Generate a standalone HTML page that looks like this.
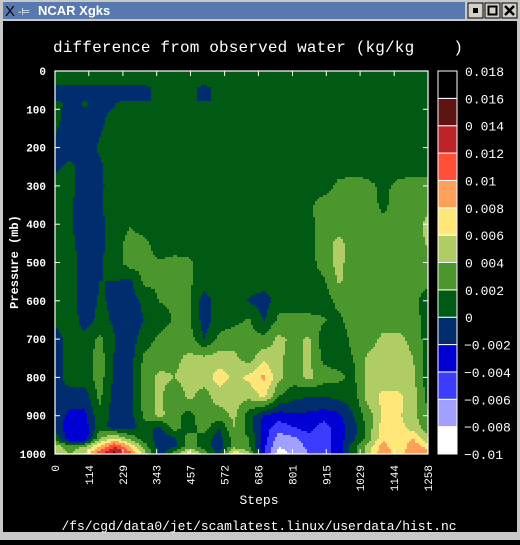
<!DOCTYPE html>
<html><head><meta charset="utf-8">
<style>
html,body{margin:0;padding:0;background:#000;}
body{width:520px;height:540px;overflow:hidden;position:relative;font-family:"Liberation Mono",monospace;}
svg text{font-family:"Liberation Mono",monospace;fill:#fff;}
</style></head>
<body>
<svg id="root" width="520" height="540" viewBox="0 0 520 540" xmlns="http://www.w3.org/2000/svg">
  <rect x="0" y="0" width="520" height="540" fill="#000"/>
  <g>
    <rect x="0" y="0" width="520" height="21" fill="#c8c8c8"/>
    <rect x="3" y="2" width="462" height="17" fill="#5878b0"/>
    <text x="5" y="16" style="font-family:'Liberation Sans',sans-serif;font-size:15px;fill:#000">X</text>
    <text x="18" y="15" style="font-family:'Liberation Sans',sans-serif;font-size:10px;fill:#fff">-⊨</text>
    <text x="38" y="15" style="font-family:'Liberation Sans',sans-serif;font-size:13px;font-weight:bold;fill:#fff">NCAR Xgks</text>
    <g><rect x="468" y="3" width="15" height="15" fill="#d4d0c8" stroke="#000" stroke-width="1"/><rect x="473" y="8" width="5" height="5" fill="#000"/></g>
    <g><rect x="485" y="3" width="15" height="15" fill="#d4d0c8" stroke="#000" stroke-width="1"/><rect x="488.5" y="6.5" width="8" height="8" fill="none" stroke="#000" stroke-width="2"/></g>
    <g><rect x="502" y="3" width="15" height="15" fill="#d4d0c8" stroke="#000" stroke-width="1"/><path d="M505 6 L514 15 M514 6 L505 15" stroke="#000" stroke-width="2.5"/></g>
  </g>
  <rect x="0" y="21" width="3" height="519" fill="#c8c8c8"/>
  <rect x="517" y="21" width="3" height="519" fill="#c8c8c8"/>
  <rect x="0" y="532" width="520" height="8" fill="#c8c8c8"/>

  <text x="258" y="52" text-anchor="middle" textLength="410" style="font-size:16px;white-space:pre" xml:space="preserve">difference from observed water (kg/kg    )</text>

  <g id="field"></g>
  <g id="axes"></g>
  <g id="cbar"></g>

  <text transform="translate(18,262) rotate(-90)" text-anchor="middle" style="font-size:12px;font-weight:bold">Pressure (mb)</text>
  <text x="259" y="504" text-anchor="middle" style="font-size:13px">Steps</text>
  <text x="259" y="530" text-anchor="middle" textLength="395" style="font-size:13px">/fs/cgd/data0/jet/scamlatest.linux/userdata/hist.nc</text>
</svg>
<script>
// Data (values in units of 0.001 kg/kg)
const scale = 0.001;
const pressureLevels = [0,35,42,76,82,130,200,250,300,350,400,450,500,550,600,650,700,750,800,850,900,930,960,980,1000];
const stepMax = 1258;
const stepTickLabels = ["0","114","229","343","457","572","686","801","915","1029","1144","1258"];
const pressureTickLabels = ["0","100","200","300","400","500","600","700","800","900","1000"];
const colorLevels = [-0.01,-0.008,-0.006,-0.004,-0.002,0,0.002,0.004,0.006,0.008,0.01,0.012,0.014,0.016,0.018];
const colorLabels = ["-0.01","-0.008","-0.006","-0.004","-0.002","0","0.002","0 004","0.006","0.008","0.01","0.012","0 014","0.016","0.018"];
const binColors = ["#ffffff","#a0a0ff","#3c3cff","#0000d2","#002d6e","#005a14","#4b962d","#afcd64","#ffe678","#ffa05a","#ff5037","#be2328","#5f1414","#000000"];
const row0 = [1,1,1,1,1,1,1,1,1,1,1,1,1,1,1,1,1,1,1,1,1,1,1,1,1,1];
const row35 = [1,1,1,1,1,1,1,1,1,1,1,1,1,1,1,1,1,1,1,1,1,1,1,1,1,1];
const row42 = [-1,-1,-1,-1,-1,-1,-1,1,1,1,-1,1,1,1,1,1,1,1,1,1,1,1,1,1,1,1];
const row76 = [-1,-1,-1,-1,-1,-1,-1,1,1,1,-1,1,1,1,1,1,1,1,1,1,1,1,1,1,1,1];
const row82 = [1,-1,0.5,-1,-0.2,1,1,1,1,1,1,1,1,1,1,1,1,1,1,1,1,1,1,1,1,1];
const row130 = [0.5,-1,-1,-0.5,1,1,1,1,1,1,1,1,1,1,1,1,1,1,1,1,1,1,1,1,1,1];
const row200 = [-0.5,-1,-1,0.3,1,1,1,1,1,1,1,1,1,1,1,1,1,1,1,1,1,1,1,1,1,1];
const row250 = [-0.5,0.5,-1,-0.3,1,1,1,1,1,1,1,1,1,1,1,1,1,1,1,1,1,1,1,1,1,1];
const row300 = [1,0.5,-1,-0.4,1,1,1,1,1,1,1,1,1,1,1,1,1,1,1,2.5,3,2.5,1.5,2.5,3,3];
const row350 = [1,0.3,-1,-0.3,1,1,1,1,1,1,1,1,1,1,1,1,1,1.5,3,3,3,3,1.5,3,3,3.5];
const row400 = [1,0.2,-1,-0.2,0.3,1.8,1,1,1,1,1,1,1,1,1,1,1,1.4,3,3,3,3,2.5,3,3,4.5];
const row450 = [1,0.5,-1,-0.3,0.5,3,2.5,1,1.5,1,1,1,1,1,1,1,1,1.4,3,4.6,3,3,3,3,3,4.3];
const row500 = [1,1,-1,-0.3,1,3,2.5,2.2,2.3,2.3,1,1,1,1,1,1,1,1,3,4.6,3,3,3,3,3,3];
const row550 = [1,1,-1,0,0,-0.5,2.5,2.3,2.3,2.3,1,1,1,1,1,1,1,1,1.6,4.3,3,3,3,3,3,2.5];
const row600 = [1,1,-1,0.2,-0.3,-1,0.5,2.1,2.3,2.3,-1,1,1,-0.2,-1,1,1,1,1,2.5,3,3,3,3,2.5,1];
const row650 = [0.5,1,-0.8,0.5,-0.3,-1,0,1,2.2,2.2,-1,1,1.5,2.2,-0.2,2.5,2.5,2.5,2.2,1.5,3,3,3,3,3,1];
const row700 = [-1,1,0.5,2.5,0,-1,1,2.5,3,3,0,2.5,3,3,2.5,4.5,3.5,4.3,1,1,2.5,3,4.5,4.5,3.5,1];
const row750 = [-1,1,1,3,-0.2,-1,2.5,3,3.5,4.5,4.5,5,4.5,3,5.5,4.5,3,4.5,1.5,1,2,4.5,5,5,4,1];
const row800 = [-1,1,1,3,-0.5,-1,3,4.5,4,5,5,7,5.5,6.5,8.5,4.5,3,4.5,3,2.5,1.5,5,5,5,4.5,1];
const row850 = [-0.5,-1,-1,2.5,-1,-1,3,4.5,2.5,4.5,3,5,5,4.5,6.5,2,0.5,0,0,0.5,1,5,6.5,6.5,5,1];
const row900 = [-1,-2.5,-2.5,1.5,-1,-1,2.5,4.5,3,1,4,3,4.5,1,-2.2,-3,-2.5,-2.5,-3,-2.5,0,3,6.5,6.5,4.5,2.5];
const row930 = [-1,-3,-3,1,-1,-1,1,-0.5,3,1,3,0,4,1,-3,-5,-4,-3,-5,-3,-1,3,7,7,5,3];
const row960 = [1.5,-3.5,-3.5,4,6.5,3.5,1,-1,-0.5,3,1,-1,3,2,-3,-7,-6.5,-5,-5,-3,-0.5,3,7.5,6,8,4];
const row980 = [5,3,4,8,12,8,3,-1,-0.5,3,1,-1,3,2,-3.5,-8,-7,-5.5,-5,-3,1,5,9,6,9.5,7];
const row1000 = [5,4,6,12,15,11,5,-1,3,8,3,-1,8,5,-4,-9,-7.5,-6,-5,-3,1,5,10,7,10,9];
const fieldRows = [row0,row35,row42,row76,row82,row130,row200,row250,row300,row350,row400,row450,row500,row550,row600,row650,row700,row750,row800,row850,row900,row930,row960,row980,row1000];

const NS = "http://www.w3.org/2000/svg";
const X0 = 55, X1 = 428, Y0 = 71, Y1 = 454;
function xScale(step){ return X0 + (step/stepMax)*(X1-X0); }
function yScale(p){ return Y0 + (p/1000)*(Y1-Y0); }
function mk(tag, attrs, parent){ const e=document.createElementNS(NS,tag); for(const k in attrs) e.setAttribute(k,attrs[k]); parent.appendChild(e); return e; }

function colorFor(v){
  for(let i=0;i<binColors.length;i++){ if(v < colorLevels[i+1]) return binColors[i]; }
  return binColors[binColors.length-1];
}
function sample(px, py){
  const nc = fieldRows[0].length;
  const fx = (px - X0)/(X1-X0)*(nc-1);
  let i = Math.max(0, Math.min(nc-2, Math.floor(fx)));
  const tx = Math.max(0, Math.min(1, fx - i));
  const p = (py - Y0)/(Y1-Y0)*1000;
  let j = 0;
  while(j < pressureLevels.length-2 && p > pressureLevels[j+1]) j++;
  const ty = Math.max(0, Math.min(1,(p - pressureLevels[j])/(pressureLevels[j+1]-pressureLevels[j])));
  const a = fieldRows[j][i]*(1-tx)+fieldRows[j][i+1]*tx;
  const b = fieldRows[j+1][i]*(1-tx)+fieldRows[j+1][i+1]*tx;
  return (a*(1-ty)+b*ty)*scale;
}

// Field
const field = document.getElementById('field');
const cell = 2;
function drawRun(x0, x1, y, h, col){
  const r = mk('rect',{x:x0,y:y,width:x1-x0+0.4,height:h+0.4,fill:col},field);
  
  
}
for(let y=Y0; y<Y1; y+=cell){
  const h = Math.min(cell, Y1-y);
  let runStart = X0, runColor = null;
  for(let x=X0; x<X1; x+=cell){
    const w = Math.min(cell, X1-x);
    const c = colorFor(sample(x+w/2, y+h/2));
    if(c !== runColor){
      if(runColor !== null) drawRun(runStart, x, y, h, runColor);
      runStart = x; runColor = c;
    }
  }
  if(runColor !== null) drawRun(runStart, X1, y, h, runColor);
}
mk('rect',{x:X0,y:Y0,width:X1-X0,height:Y1-Y0,fill:'none',stroke:'#fff','stroke-width':1.2},field);

// Axes
const axes = document.getElementById('axes');
stepTickLabels.forEach((lab,k)=>{
  const x = xScale(Number(lab));
  const t1 = mk('line',{x1:x,x2:x,y1:Y1,y2:Y1-5,stroke:'#fff','stroke-width':1},axes);
  
  
  mk('line',{x1:x,x2:x,y1:Y0,y2:Y0+5,stroke:'#fff','stroke-width':1},axes);
  const t = mk('text',{transform:`translate(${x+4},465) rotate(-90)`,'text-anchor':'end',style:'font-size:11px'},axes);
  t.textContent = lab;
  
  
});
pressureTickLabels.forEach(lab=>{
  const y = yScale(Number(lab));
  const t1 = mk('line',{x1:X0,x2:X0+5,y1:y,y2:y,stroke:'#fff','stroke-width':1},axes);
  
  
  mk('line',{x1:X1,x2:X1-5,y1:y,y2:y,stroke:'#fff','stroke-width':1},axes);
  const t = mk('text',{x:46,y:y+4,'text-anchor':'end',style:'font-size:11px;font-weight:bold'},axes);
  t.textContent = lab;
  
  
});

// Colorbar
const cbar = document.getElementById('cbar');
const CB_X = 438, CB_W = 19;
const nb = binColors.length;
function cbY(k){ return Y1 - k*(Y1-Y0)/nb; }
binColors.forEach((col,k)=>{
  const r = mk('rect',{x:CB_X,y:cbY(k+1),width:CB_W,height:cbY(k)-cbY(k+1),fill:col,stroke:'#fff','stroke-width':1},cbar);
  
  
});
colorLabels.forEach((lab,k)=>{
  const t = mk('text',{x:lab.startsWith('-')?464:465,y:cbY(k)+5,style:'font-size:13px'},cbar);
  t.textContent = lab.replace('-','\u2212');
  
  
});
</script>
</body></html>
